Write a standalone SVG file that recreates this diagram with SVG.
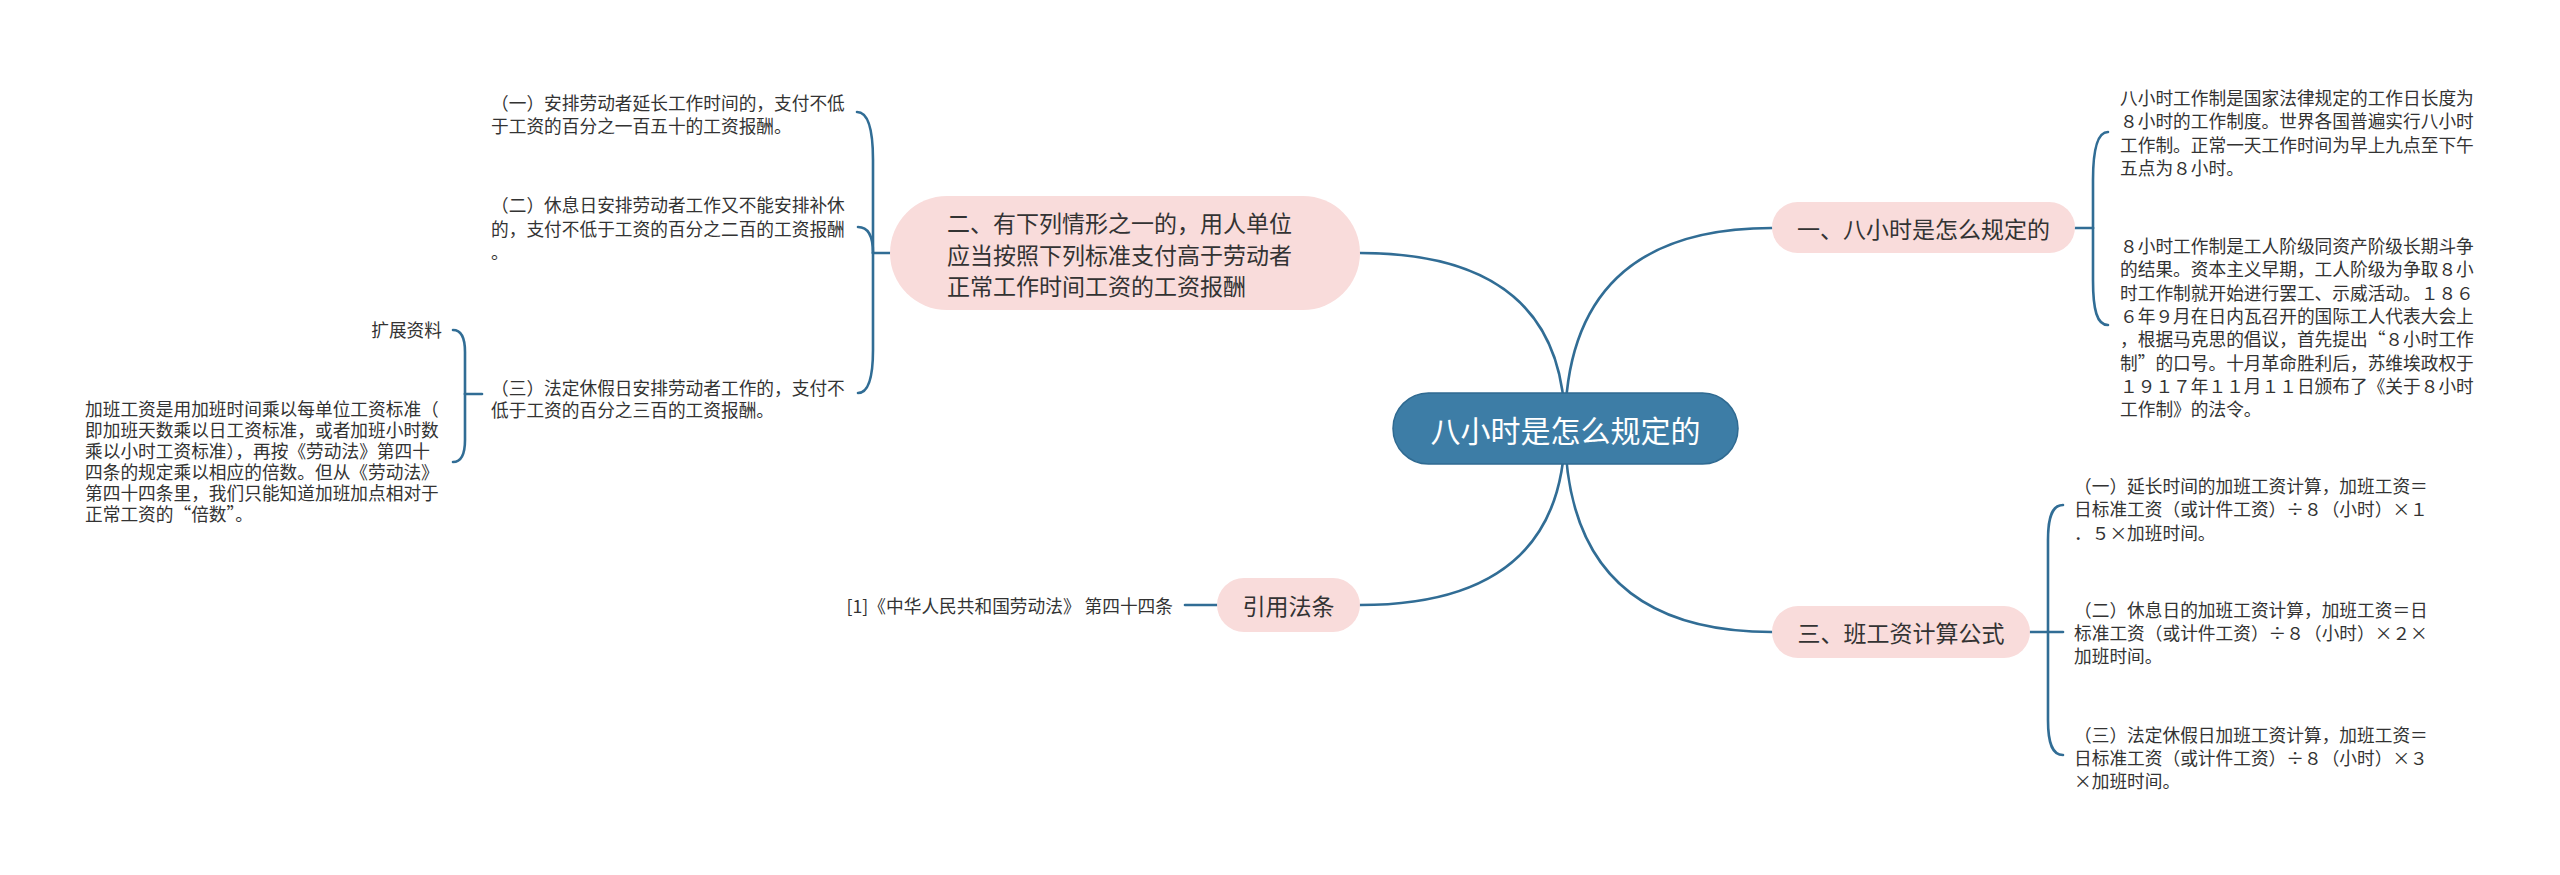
<svg xmlns="http://www.w3.org/2000/svg" width="2560" height="875" viewBox="0 0 2560 875">
<style>
  text { font-family: "Noto Sans CJK SC", "Noto Sans", sans-serif; fill: #333333; dominant-baseline: central; }
  .small { font-size: 17.7px; }
  .sub { font-size: 23px; }
  .rootText { font-size: 30px; fill: #ffffff; }
  .pink { fill: #f9dcdb; }
  .root { fill: #3d7da6; stroke: #2f6a91; stroke-width: 1.5; }
  .conn path { fill: none; stroke: #316d95; stroke-width: 2.6; stroke-linecap: round; }
</style>
<rect width="2560" height="875" fill="#ffffff"/>

<g id="connectors" class="conn">
  <!-- root to main branches -->
  <path d="M1565,428 Q1565,228 1772,228"/>
  <path d="M1565,428 Q1565,253 1360,253"/>
  <path d="M1565,428 Q1565,632 1772,632"/>
  <path d="M1565,428 Q1565,605 1360,605"/>
  <!-- branch 一 -->
  <path d="M2075,228 H2093"/>
  <path d="M2093,228 V180 C2093,150 2097,132 2108,132"/>
  <path d="M2093,228 V280 C2093,310 2097,325 2108,325"/>
  <!-- branch 三 -->
  <path d="M2030,632 H2048"/>
  <path d="M2048,632 V540 C2048,515 2053,505 2063,505"/>
  <path d="M2048,632 H2063"/>
  <path d="M2048,632 V720 C2048,745 2053,755 2063,755"/>
  <!-- branch 二 -->
  <path d="M890,253 H873"/>
  <path d="M873,253 V160 C873,130 868,112 857,112"/>
  <path d="M873,253 C873,236 868,227 858,227"/>
  <path d="M873,253 V350 C873,378 868,393 858,393"/>
  <!-- sub (三) -->
  <path d="M482,394 H465"/>
  <path d="M465,394 V352 C465,338 461,330 453,330"/>
  <path d="M465,394 V440 C465,454 461,462 453,462"/>
  <!-- 引用法条 -->
  <path d="M1217,605 H1185"/>
</g>

<g id="root">
  <rect class="root" x="1393" y="393" width="345" height="71" rx="35.5"/>
  <text class="rootText" x="1565.5" y="429" text-anchor="middle">八小时是怎么规定的</text>
</g>

<g id="node-one">
  <rect class="pink" x="1772" y="202" width="303" height="51" rx="25.5"/>
  <text class="sub" x="1923.5" y="228" text-anchor="middle">一、八小时是怎么规定的</text>
</g>

<g id="node-one-a">
  <text class="small" x="2120">
    <tspan x="2120" y="97">八小时工作制是国家法律规定的工作日长度为</tspan>
    <tspan x="2120" y="120.3">８小时的工作制度。世界各国普遍实行八小时</tspan>
    <tspan x="2120" y="143.6">工作制。正常一天工作时间为早上九点至下午</tspan>
    <tspan x="2120" y="166.9">五点为８小时。</tspan>
  </text>
</g>

<g id="node-one-b">
  <text class="small" x="2120">
    <tspan x="2120" y="245">８小时工作制是工人阶级同资产阶级长期斗争</tspan>
    <tspan x="2120" y="268.3">的结果。资本主义早期，工人阶级为争取８小</tspan>
    <tspan x="2120" y="291.6">时工作制就开始进行罢工、示威活动。１８６</tspan>
    <tspan x="2120" y="314.9">６年９月在日内瓦召开的国际工人代表大会上</tspan>
    <tspan x="2120" y="338.2">，根据马克思的倡议，首先提出“８小时工作</tspan>
    <tspan x="2120" y="361.5">制”的口号。十月革命胜利后，苏维埃政权于</tspan>
    <tspan x="2120" y="384.8">１９１７年１１月１１日颁布了《关于８小时</tspan>
    <tspan x="2120" y="408.1">工作制》的法令。</tspan>
  </text>
</g>

<g id="node-three">
  <rect class="pink" x="1772" y="606" width="258" height="52" rx="26"/>
  <text class="sub" x="1901" y="632" text-anchor="middle">三、班工资计算公式</text>
</g>

<g id="node-three-a">
  <text class="small">
    <tspan x="2074" y="485">（一）延长时间的加班工资计算，加班工资＝</tspan>
    <tspan x="2074" y="508.3">日标准工资（或计件工资）÷８（小时）×１</tspan>
    <tspan x="2074" y="531.6">．５×加班时间。</tspan>
  </text>
</g>

<g id="node-three-b">
  <text class="small">
    <tspan x="2074" y="608.5">（二）休息日的加班工资计算，加班工资＝日</tspan>
    <tspan x="2074" y="631.8">标准工资（或计件工资）÷８（小时）×２×</tspan>
    <tspan x="2074" y="655.1">加班时间。</tspan>
  </text>
</g>

<g id="node-three-c">
  <text class="small">
    <tspan x="2074" y="733.5">（三）法定休假日加班工资计算，加班工资＝</tspan>
    <tspan x="2074" y="756.8">日标准工资（或计件工资）÷８（小时）×３</tspan>
    <tspan x="2074" y="780.1">×加班时间。</tspan>
  </text>
</g>

<g id="node-two">
  <rect class="pink" x="890" y="196" width="470" height="114" rx="57"/>
  <text class="sub">
    <tspan x="947" y="222">二、有下列情形之一的，用人单位</tspan>
    <tspan x="947" y="253.5">应当按照下列标准支付高于劳动者</tspan>
    <tspan x="947" y="285">正常工作时间工资的工资报酬</tspan>
  </text>
</g>

<g id="node-two-a">
  <text class="small">
    <tspan x="491" y="102">（一）安排劳动者延长工作时间的，支付不低</tspan>
    <tspan x="491" y="125">于工资的百分之一百五十的工资报酬。</tspan>
  </text>
</g>

<g id="node-two-b">
  <text class="small">
    <tspan x="491" y="204">（二）休息日安排劳动者工作又不能安排补休</tspan>
    <tspan x="491" y="227.5">的，支付不低于工资的百分之二百的工资报酬</tspan>
    <tspan x="491" y="251">。</tspan>
  </text>
</g>

<g id="node-two-c">
  <text class="small">
    <tspan x="491" y="387">（三）法定休假日安排劳动者工作的，支付不</tspan>
    <tspan x="491" y="409">低于工资的百分之三百的工资报酬。</tspan>
  </text>
</g>

<g id="node-ext">
  <text class="small" x="442" y="329" text-anchor="end">扩展资料</text>
</g>

<g id="node-ext-text">
  <text class="small">
    <tspan x="85" y="408">加班工资是用加班时间乘以每单位工资标准（</tspan>
    <tspan x="85" y="429">即加班天数乘以日工资标准，或者加班小时数</tspan>
    <tspan x="85" y="450">乘以小时工资标准），再按《劳动法》第四十</tspan>
    <tspan x="85" y="471">四条的规定乘以相应的倍数。但从《劳动法》</tspan>
    <tspan x="85" y="492">第四十四条里，我们只能知道加班加点相对于</tspan>
    <tspan x="85" y="513">正常工资的“倍数”。</tspan>
  </text>
</g>

<g id="node-cite">
  <rect class="pink" x="1217" y="578" width="143" height="54" rx="27"/>
  <text class="sub" x="1288.5" y="605" text-anchor="middle">引用法条</text>
</g>

<g id="node-cite-text">
  <text class="small" x="1173" y="605" text-anchor="end">[1]《中华人民共和国劳动法》 第四十四条</text>
</g>
</svg>
